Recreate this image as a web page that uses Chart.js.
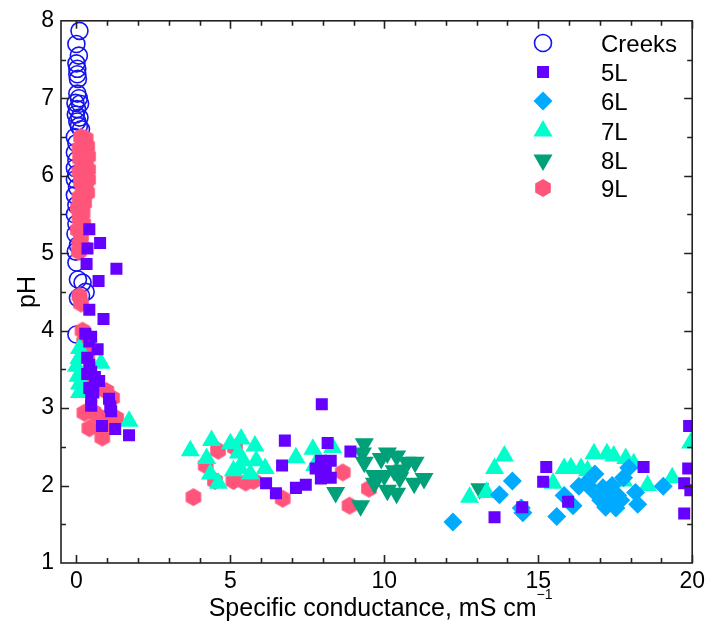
<!DOCTYPE html>
<html>
<head>
<meta charset="utf-8">
<script src="https://cdn.jsdelivr.net/npm/chart.js@4.4.1/dist/chart.umd.min.js"></script>
<style>
  body { margin: 0; background: #fff; }
  #wrap { width: 710px; height: 625px; }
</style>
</head>
<body>
<div id="wrap"><canvas id="chart" width="710" height="625"></canvas></div>
<script>
const seriesNames = ['Creeks', '5L', '6L', '7L', '8L', '9L'];
const xTicks = [0, 5, 10, 15, 20];
const yTicks = [1, 2, 3, 4, 5, 6, 7, 8];

// specific conductance (mS/cm) and pH for each group
const creeksCond = [0.1, 0.0, 0.08, 0.0, 0.03, 0.03, 0.05, 0.03, 0.08, -0.03, 0.12, 0.02, -0.02, 0.1, 0.03, 0.08, 0.15,
  -0.05, 0.0, -0.05, 0.0, -0.05, 0.0, -0.05, 0.02, -0.05, 0.0, -0.05, 0.0, -0.03, 0.05, -0.02, 0.0, 0.05, 0.2, 0.3, 0.15, 0.05, 0.0];
const creeksPH = [7.87, 7.7, 7.55, 7.45, 7.38, 7.31, 7.25, 7.06, 7.0, 6.94, 6.93, 6.86, 6.79, 6.75, 6.7, 6.64, 6.6,
  6.5, 6.42, 6.3, 6.2, 6.1, 6.02, 5.95, 5.85, 5.75, 5.62, 5.5, 5.38, 5.25, 5.1, 5.02, 4.88, 4.66, 4.62, 4.5, 4.45, 4.42, 3.95];

const l5Cond = [0.42, 0.36, 0.77, 0.33, 1.3, 0.72, 0.42, 0.88, 0.29, 0.48, 0.42, 0.69, 0.35, 0.42, 0.35, 0.48, 0.74, 0.42,
  0.48, 0.48, 0.55, 0.6, 1.06, 1.1, 1.13, 0.83, 1.26, 1.71,
  7.97, 6.77, 8.16, 8.9, 6.68, 6.16, 6.48, 7.13, 7.45, 7.94, 8.26, 7.77, 8.1, 7.94, 8.26,
  15.26, 15.16, 15.97, 14.48, 13.58, 18.42, 19.9, 19.74, 19.94, 19.74, 19.87];
const l5PH = [5.31, 5.06, 5.13, 4.86, 4.8, 4.64, 4.27, 4.15, 3.96, 3.92, 3.86, 3.76, 3.65, 3.56, 3.44, 3.47, 3.35, 3.26,
  3.13, 3.03, 3.2, 3.4, 3.12, 3.02, 2.96, 2.77, 2.73, 2.65,
  3.05, 2.58, 2.55, 2.44, 2.26, 2.03, 1.9, 1.97, 2.01, 2.32, 2.32, 2.22, 2.19, 2.09, 2.1,
  2.24, 2.05, 1.79, 1.72, 1.59, 2.24, 2.77, 2.03, 1.94, 1.64, 2.22];

const l6Cond = [12.23, 14.16, 13.74, 14.45, 14.5, 15.6, 16.13, 15.84, 16.32, 16.84, 16.77, 17.1, 17.29, 17.03, 17.19,
  17.52, 17.68, 17.58, 17.77, 17.94, 18.16, 18.23, 19.06, 16.6, 17.4, 17.35];
const l6PH = [1.53, 2.06, 1.88, 1.71, 1.65, 1.6, 1.74, 1.87, 1.99, 2.15, 1.94, 1.97, 1.9, 1.81, 1.72,
  1.71, 1.81, 1.87, 2.1, 2.23, 1.91, 1.76, 1.99, 2.05, 2.0, 1.78];

const l7Cond = [0.1, 0.08, 0.0, 0.05, 0.1, 0.1, 0.8, 1.71,
  3.7, 4.39, 4.23, 4.35, 4.61, 5.0, 5.35, 5.26, 5.42, 5.32, 5.1, 5.65, 5.8, 5.84, 6.13, 7.13, 7.68, 8.32, 7.74,
  13.9, 13.58, 12.77, 13.32, 15.48, 15.84, 16.06, 16.39, 16.81, 17.23, 17.45, 17.84, 18.1, 16.6, 18.55, 19.35, 17.77, 19.95];
const l7PH = [3.77, 3.64, 3.54, 3.41, 3.31, 3.2, 3.58, 2.83,
  2.45, 2.58, 2.35, 2.15, 2.03, 2.54, 2.6, 2.42, 2.32, 2.22, 2.19, 2.15, 2.51, 2.32, 2.22, 2.36, 2.47, 2.49, 2.26,
  2.38, 2.22, 1.85, 1.91, 2.03, 2.22, 2.23, 2.22, 2.41, 2.41, 2.38, 2.35, 2.28, 2.19, 2.0, 2.1, 2.06, 2.55];

const l8Cond = [9.35, 9.29, 9.35, 10.1, 10.4, 10.74, 11.0, 9.68, 10.0, 10.32, 10.5, 9.68, 10.1, 10.4, 10.97, 11.29,
  8.42, 9.23, 13.1, 9.9, 10.6];
const l8PH = [2.54, 2.42, 2.3, 2.42, 2.38, 2.3, 2.3, 2.13, 2.13, 2.19, 2.1, 2.03, 1.94, 1.9, 2.03, 2.09,
  1.91, 1.74, 1.96, 2.35, 2.2];

const l9Cond = [0.15, 0.3, 0.2, 0.35, 0.1, 0.25, 0.38, 0.12, 0.3, 0.2, 0.38, 0.1, 0.28, 0.38, 0.15, 0.3, 0.2, 0.35,
  0.1, 0.25, 0.05, 0.2, 0.1, 0.22, 0.05, 0.15, 0.1, 0.2, 0.08,
  0.1, 0.15, 0.2, 0.3,
  0.25, 0.35, 0.2, 0.97, 1.16, 1.29, 0.26, 0.42, 0.84, 0.7, 0.55, 1.05,
  3.8, 4.6, 4.2, 4.5, 5.1, 5.5, 5.75, 5.15, 6.7, 8.65, 8.87, 9.5];
const l9PH = [6.5, 6.48, 6.42, 6.38, 6.35, 6.3, 6.25, 6.22, 6.15, 6.1, 6.08, 6.05, 6.0, 5.95, 5.92, 5.85, 5.8, 5.78,
  5.72, 5.65, 5.58, 5.52, 5.45, 5.38, 5.3, 5.22, 5.12, 5.08, 5.02,
  4.45, 4.35, 4.0, 3.93,
  3.85, 3.7, 3.31, 3.22, 3.13, 2.87, 2.94, 2.74, 2.62, 2.9, 2.95, 2.8,
  1.85, 2.45, 2.26, 2.06, 2.06, 2.04, 2.06, 2.49, 1.83, 2.17, 1.74, 1.96];

const FONT = '"Liberation Sans", Arial, sans-serif';
Chart.defaults.font.family = FONT;
Chart.defaults.color = '#000';

const toPoints = (xs, ys) => xs.map((x, i) => ({ x, y: ys[i] }));

// pointy-top hexagon marker, used as an image pointStyle
function hexagon(r, color) {
  const c = document.createElement('canvas');
  c.width = c.height = 20;
  const g = c.getContext('2d');
  g.fillStyle = color;
  g.beginPath();
  for (let i = 0; i < 6; i++) {
    const a = Math.PI / 3 * i - Math.PI / 2;
    g.lineTo(10 + r * Math.cos(a), 10 + r * Math.sin(a));
  }
  g.closePath();
  g.fill();
  return c;
}

function series(label, xs, ys, style, radius, color, order, extra) {
  return Object.assign({
    label,
    data: toPoints(xs, ys),
    pointStyle: style,
    pointRadius: radius,
    pointBackgroundColor: color,
    pointBorderColor: color,
    pointBorderWidth: 0,
    pointRotation: 0,
    order,
    clip: 0
  }, extra || {});
}

const datasets = [
  series(seriesNames[0], creeksCond, creeksPH, 'circle', 8.5, 'rgba(0,0,0,0)', 6,
    { pointBorderColor: '#1414f0', pointBorderWidth: 1.6 }),
  series(seriesNames[1], l5Cond, l5PH, 'rect', 8.5, '#6600ff', 1),
  series(seriesNames[2], l6Cond, l6PH, 'rectRot', 9.5, '#00aaff', 2),
  series(seriesNames[3], l7Cond, l7PH, 'triangle', 11, '#00ffcc', 3),
  series(seriesNames[4], l8Cond, l8PH, 'triangle', 11, '#00a078', 4, { pointRotation: 180 }),
  series(seriesNames[5], l9Cond, l9PH, hexagon(9, '#ff557a'), 9, '#ff557a', 5)
];

// box around the plot with inward ticks on all four sides
const frame = {
  id: 'frame',
  afterDatasetsDraw(chart) {
    const { ctx, chartArea: a, scales: { x, y } } = chart;
    ctx.save();
    ctx.strokeStyle = '#222';
    ctx.lineWidth = 1.6;
    ctx.strokeRect(a.left, a.top, a.right - a.left, a.bottom - a.top);
    ctx.beginPath();
    for (let v = 0; v <= 20; v++) {
      const px = Math.round(x.getPixelForValue(v)) + 0.5;
      const len = v % 5 === 0 ? 8 : 5;
      ctx.moveTo(px, a.bottom); ctx.lineTo(px, a.bottom - len);
      ctx.moveTo(px, a.top); ctx.lineTo(px, a.top + len);
    }
    for (let v = 1.5; v < 8; v += 0.5) {
      const py = Math.round(y.getPixelForValue(v)) + 0.5;
      const len = v % 1 === 0 ? 8 : 5;
      ctx.moveTo(a.left, py); ctx.lineTo(a.left + len, py);
      ctx.moveTo(a.right, py); ctx.lineTo(a.right - len, py);
    }
    ctx.stroke();
    ctx.restore();
  }
};

// axis titles and the in-plot legend
const labels = {
  id: 'labels',
  afterDraw(chart) {
    const { ctx, chartArea: a } = chart;
    ctx.save();
    ctx.fillStyle = '#000';

    ctx.font = '25px ' + FONT;
    ctx.textBaseline = 'alphabetic';
    const main = 'Specific conductance, mS cm';
    const mw = ctx.measureText(main).width;
    ctx.font = '14px ' + FONT;
    const sup = '\u22121';
    const sw = ctx.measureText(sup).width;
    const x0 = (a.left + a.right) / 2 + 4 - (mw + sw) / 2;
    ctx.font = '25px ' + FONT;
    ctx.textAlign = 'left';
    ctx.fillText(main, x0, 616);
    ctx.font = '14px ' + FONT;
    ctx.fillText(sup, x0 + mw, 599);

    ctx.save();
    ctx.translate(35, (a.top + a.bottom) / 2);
    ctx.rotate(-Math.PI / 2);
    ctx.font = '25px ' + FONT;
    ctx.textAlign = 'center';
    ctx.fillText('pH', 0, 0);
    ctx.restore();

    const rows = [43, 72, 101, 131, 160, 188];
    chart.data.datasets.forEach((ds, i) => {
      ctx.fillStyle = ds.pointBackgroundColor;
      ctx.strokeStyle = ds.pointBorderColor;
      ctx.lineWidth = ds.pointBorderWidth;
      Chart.helpers.drawPoint(ctx, {
        pointStyle: ds.pointStyle,
        radius: ds.pointRadius,
        rotation: ds.pointRotation,
        borderWidth: ds.pointBorderWidth
      }, 543, rows[i]);
      ctx.fillStyle = '#000';
      ctx.font = '24px ' + FONT;
      ctx.textAlign = 'left';
      ctx.textBaseline = 'middle';
      ctx.fillText(ds.label, 601, rows[i] + 2);
    });
    ctx.restore();
  }
};

new Chart(document.getElementById('chart'), {
  type: 'scatter',
  data: { datasets },
  options: {
    responsive: false,
    animation: false,
    events: [],
    layout: { padding: { top: 17, right: 14, left: 0, bottom: 0 } },
    plugins: { legend: { display: false }, tooltip: { enabled: false } },
    scales: {
      x: {
        type: 'linear',
        min: -0.5,
        max: 20,
        afterBuildTicks: s => { s.ticks = xTicks.map(v => ({ value: v })); },
        afterFit: s => { s.height = 62; },
        grid: { display: false, drawTicks: false },
        border: { display: false },
        ticks: { font: { size: 23 }, color: '#000', padding: 5, maxRotation: 0, autoSkip: false }
      },
      y: {
        type: 'linear',
        min: 1,
        max: 8,
        afterBuildTicks: s => { s.ticks = yTicks.map(v => ({ value: v })); },
        afterFit: s => { s.width = 61; },
        grid: { display: false, drawTicks: false },
        border: { display: false },
        ticks: { font: { size: 23 }, color: '#000', padding: 7, autoSkip: false }
      }
    }
  },
  plugins: [frame, labels]
});
</script>
</body>
</html>
